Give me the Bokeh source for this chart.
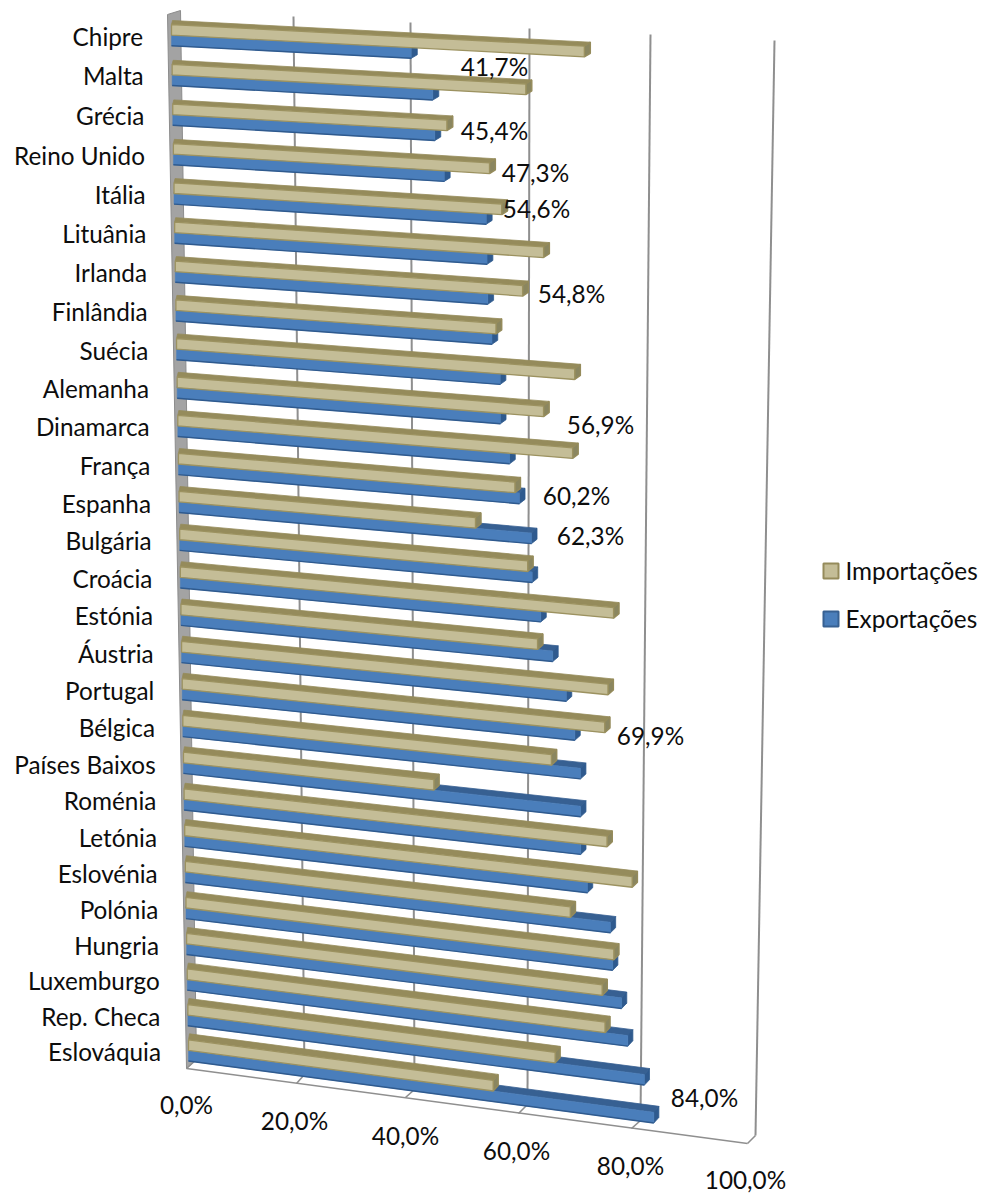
import numpy as np
from bokeh.core.properties import value
from bokeh.embed import file_html
from bokeh.models import ColumnDataSource, Range1d
from bokeh.plotting import figure
from bokeh.resources import INLINE

# Share of trade by member state, in %, top row first
countries = ["Chipre", "Malta", "Grécia", "Reino Unido", "Itália", "Lituânia", "Irlanda",
             "Finlândia", "Suécia", "Alemanha", "Dinamarca", "França", "Espanha", "Bulgária",
             "Croácia", "Estónia", "Áustria", "Portugal", "Bélgica", "Países Baixos", "Roménia",
             "Letónia", "Eslovénia", "Polónia", "Hungria", "Luxemburgo", "Rep. Checa", "Eslováquia"]
importacoes = [71.8, 61.6, 47.8, 55.2, 57.3, 64.6, 60.9, 56.2, 70.0, 64.5, 69.6, 59.4, 52.4, 61.6,
               76.8, 63.3, 75.8, 75.2, 65.7, 44.7, 75.6, 80.1, 69.0, 76.8, 74.7, 75.2, 66.2, 55.0]
exportacoes = [41.7, 45.4, 45.7, 47.3, 54.6, 54.7, 54.8, 55.5, 56.9, 56.9, 58.5, 60.2, 62.3, 62.4,
               63.9, 66.0, 68.4, 69.9, 70.9, 70.9, 70.9, 72.1, 76.2, 76.6, 78.2, 79.3, 82.3, 84.0]
axis_values = [0, 20, 40, 60, 80, 100]
axis_labels = ["0,0%", "20,0%", "40,0%", "60,0%", "80,0%", "100,0%"]
series_names = ["Importações", "Exportações"]

# Where the value labels sit: row -> text centre
label_places = {0: (494, 66), 1: (494, 130), 3: (535, 172), 4: (536, 208), 6: (571, 293),
                9: (600, 424), 11: (576, 495), 12: (590, 535), 17: (650, 735), 27: (704, 1097)}

# Corners of the perspective box, per axis value
rear_top = [(180, 10), (293, 16), (410, 22), (529, 28), (650, 34), (774, 40)]
rear_bottom = [(196, 1059), (304, 1074), (414, 1089), (527, 1104), (640, 1120), (755, 1135)]
front_floor = [(186, 1068), (296, 1083), (405, 1097), (518, 1113), (631, 1128), (747, 1143)]
axis_label_places = [(186, 1104), (294, 1120), (405, 1135), (516, 1150), (630, 1165), (745, 1179)]

FONT = value("Lato")
TEXT_SIZE = "24.3px"
TEXT_COLOR = "#0d0d0d"
N = len(countries)


def row_fraction(i):
    return i / (N - 1)


def row_top(i):
    return 20 + 39.87 * i - 0.0866 * i * i


def bar_frame(i):
    t = row_fraction(i)
    return dict(x0=171 + 17 * t, scale=5.75 - 0.21 * t, slope=0.0525 + 0.0805 * t,
                band=4 + 2 * t, depth=6 - t)


FACE = 10.6


def bar_polys(val, i, lower):
    """Front face, top band and end cap of one bar after projection."""
    f = bar_frame(i)
    x0, x1 = f["x0"], f["x0"] + f["scale"] * val
    dy = f["slope"] * (x1 - x0)
    ya = row_top(i) + f["band"] + (FACE if lower else 0)
    face = ([x0, x1, x1, x0], [ya, ya + dy, ya + dy + FACE, ya + FACE])
    top = ([x0, x1, x1 + f["depth"], x0 + 1], [ya, ya + dy, ya + dy - f["band"], ya - f["band"]])
    cap = ([x1, x1 + f["depth"], x1 + f["depth"], x1],
           [ya + dy, ya + dy - f["band"], ya + dy + FACE - f["band"] + 0.5, ya + dy + FACE])
    return face, top, cap


p = figure(width=984, height=1194, output_backend="svg", toolbar_location=None,
           x_range=Range1d(0, 984), y_range=Range1d(1194, 0), min_border=0,
           outline_line_color=None, background_fill_color="white")
p.xaxis.visible = False
p.yaxis.visible = False
p.grid.visible = False

# Left wall of the box
p.patch([167, rear_top[0][0], rear_bottom[0][0], front_floor[0][0]],
        [14, rear_top[0][1], rear_bottom[0][1], front_floor[0][1]],
        fill_color="#a3a3a3", line_color="#8c8c8c", line_width=1)

# Gridlines on the rear wall and the floor ticks
GRID = "#8f8f8f"
for top, bot in zip(rear_top[1:], rear_bottom[1:]):
    p.line([top[0], bot[0]], [top[1], bot[1]], line_color=GRID, line_width=2)
for front, bot in zip(front_floor, rear_bottom):
    p.line([front[0], bot[0]], [front[1], bot[1]], line_color=GRID, line_width=1.6)
p.line([front_floor[0][0], front_floor[-1][0]], [front_floor[0][1], front_floor[-1][1]],
       line_color=GRID, line_width=1.6)

# Bars, exports first because the imports bar stands in front of it
for i in range(N):
    face, top, cap = bar_polys(exportacoes[i], i, True)
    p.patch(*top, fill_color="#376092", line_color="#376092", line_width=0.8)
    p.patch(*cap, fill_color="#2f5a8e", line_color="#2f5a8e", line_width=0.8)
    p.patch(*face, fill_color="#4a7ebb", line_color="#4a7ebb", line_width=0.5)
    p.line(face[0][2:], face[1][2:], line_color="#2f5a8e", line_width=1.4)

    face, top, cap = bar_polys(importacoes[i], i, False)
    p.patch(*top, fill_color="#958b5b", line_color="#958b5b", line_width=0.8)
    p.patch(*cap, fill_color="#8a8660", line_color="#958b5b", line_width=1.4)
    p.patch(*face, fill_color="#c4bd97", line_color="#9c9260", line_width=1.3)

# Category names, right aligned along the slanted wall
cat_src = ColumnDataSource(dict(
    x=[142.5 + 18 * row_fraction(i) for i in range(N)],
    y=[row_top(i) + 15.5 + 2.5 * row_fraction(i) for i in range(N)],
    text=countries))
p.text(x="x", y="y", text="text", source=cat_src, text_align="right", text_baseline="middle",
       text_font=FONT, text_font_size=TEXT_SIZE, text_color=TEXT_COLOR)

# Axis value labels
p.text(x=[q[0] for q in axis_label_places], y=[q[1] for q in axis_label_places], text=axis_labels,
       text_align="center", text_baseline="middle", text_font=FONT, text_font_size=TEXT_SIZE,
       text_color=TEXT_COLOR)

# Export values printed next to the selected bars
rows = list(label_places)
p.text(x=[label_places[r][0] for r in rows], y=[label_places[r][1] for r in rows],
       text=[f"{exportacoes[r]:.1f}%".replace(".", ",") for r in rows],
       text_align="center", text_baseline="middle", text_font=FONT, text_font_size=TEXT_SIZE,
       text_color=TEXT_COLOR)

# Legend
p.quad(left=[823], right=[838], top=[563], bottom=[578], fill_color="#c4bd97",
       line_color="#958b5b", line_width=2)
p.quad(left=[823], right=[838], top=[611], bottom=[626], fill_color="#4a7ebb",
       line_color="#376092", line_width=2)
p.text(x=[845, 845], y=[570, 618], text=series_names, text_align="left", text_baseline="middle",
       text_font=FONT, text_font_size=TEXT_SIZE, text_color=TEXT_COLOR)

open("out.html", "w").write(file_html(p, INLINE))
